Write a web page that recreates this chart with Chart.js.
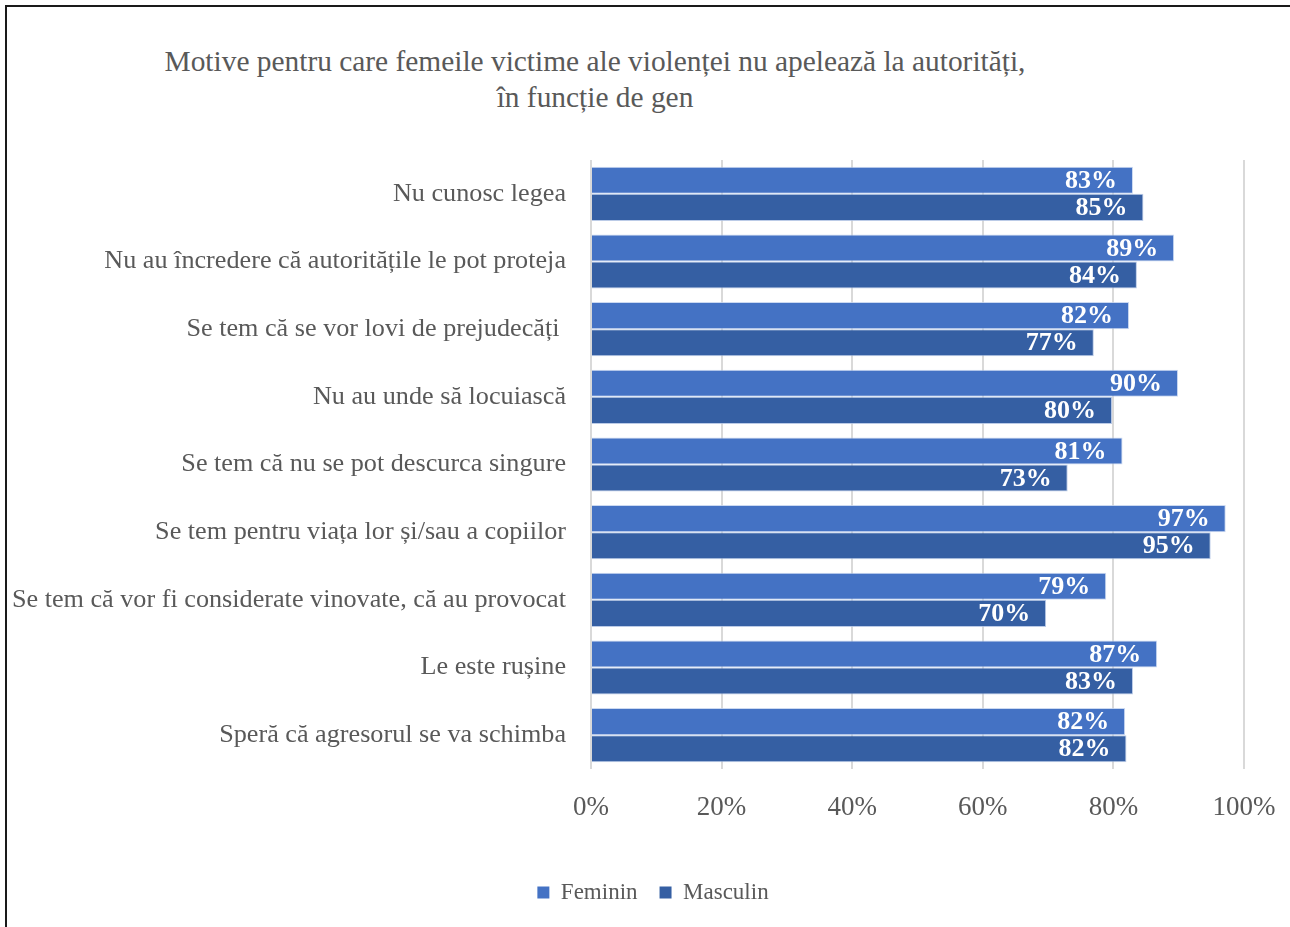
<!DOCTYPE html>
<html>
<head>
<meta charset="utf-8">
<script src="https://cdn.jsdelivr.net/npm/chart.js@4.4.0/dist/chart.umd.min.js"></script>
<style>
    html, body { margin: 0; padding: 0; background: #fff; }
    body { width: 1290px; height: 927px; position: relative; overflow: hidden; }
    #frame {
        position: absolute; left: 5px; top: 5px; right: -10px; bottom: -10px;
        border-top: 2px solid #1a1a1a; border-left: 2px solid #1a1a1a;
    }
    #title {
        position: absolute; left: 0; top: 43px; width: 1190px;
        text-align: center; font-family: "Liberation Serif", serif;
        font-size: 29.4px; line-height: 36px; color: #595959;
    }
    #wrap { position: absolute; left: 0; top: 0; width: 1290px; height: 927px; }
</style>
</head>
<body>
<div id="frame"></div>
<div id="title">Motive pentru care femeile victime ale violenței nu apelează la autorități,<br>în funcție de gen</div>
<div id="wrap"><canvas id="motiveChart"></canvas></div>
<script>
// Date: procente
const categorii = [
    'Nu cunosc legea',
    'Nu au încredere că autoritățile le pot proteja',
    'Se tem că se vor lovi de prejudecăți ',
    'Nu au unde să locuiască',
    'Se tem că nu se pot descurca singure',
    'Se tem pentru viața lor și/sau a copiilor',
    'Se tem că vor fi considerate vinovate, că au provocat',
    'Le este rușine',
    'Speră că agresorul se va schimba'
];
const feminin = [83.0, 89.3, 82.4, 89.9, 81.4, 97.2, 78.9, 86.7, 81.8];
const masculin = [84.6, 83.6, 77.0, 79.8, 73.0, 94.9, 69.7, 83.0, 82.0];
const tickuriX = [0, 20, 40, 60, 80, 100];

const fontSerif = '"Liberation Serif", serif';
const textGri = '#595959';

// Etichete pe bare (valoare rotunjita + %)
const eticheteBare = {
    id: 'eticheteBare',
    afterDatasetsDraw(chart) {
        const ctx = chart.ctx;
        ctx.save();
        ctx.font = 'bold 26px ' + fontSerif;
        ctx.fillStyle = '#ffffff';
        ctx.textAlign = 'right';
        ctx.textBaseline = 'middle';
        chart.data.datasets.forEach((ds, i) => {
            const meta = chart.getDatasetMeta(i);
            meta.data.forEach((bar, j) => {
                ctx.fillText(Math.round(ds.data[j]) + '%', bar.x - 16, bar.y + 1);
            });
        });
        ctx.restore();
    }
};

// Legenda mutata putin spre dreapta (centrata ca in original)
const mutaLegenda = {
    id: 'mutaLegenda',
    afterLayout(chart) {
        if (chart.legend) {
            chart.legend.left += 31;
            chart.legend.right += 31;
        }
    }
};

document.addEventListener('DOMContentLoaded', function() {
    const ctx = document.getElementById('motiveChart').getContext('2d');
    new Chart(ctx, {
        type: 'bar',
        data: {
            labels: categorii,
            datasets: [{
                label: 'Feminin',
                data: feminin,
                backgroundColor: '#4472C4',
                borderColor: 'rgba(190,208,238,0.8)',
                borderWidth: 1,
                categoryPercentage: 0.8,
                barPercentage: 1.0
            }, {
                label: 'Masculin',
                data: masculin,
                backgroundColor: '#355FA3',
                borderColor: 'rgba(170,190,225,0.8)',
                borderWidth: 1,
                categoryPercentage: 0.8,
                barPercentage: 1.0
            }]
        },
        options: {
            indexAxis: 'y',
            responsive: true,
            maintainAspectRatio: false,
            animation: false,
            layout: { padding: { top: 160, right: 46, bottom: 13, left: 0 } },
            plugins: {
                title: { display: false },
                tooltip: { enabled: false },
                legend: {
                    position: 'bottom',
                    labels: {
                        boxWidth: 12,
                        boxHeight: 12,
                        padding: 22,
                        color: textGri,
                        font: { family: fontSerif, size: 23 },
                        generateLabels: function(chart) {
                            return Chart.defaults.plugins.legend.labels.generateLabels(chart)
                                .map(l => Object.assign(l, { lineWidth: 0 }));
                        }
                    }
                }
            },
            scales: {
                x: {
                    min: 0,
                    max: 100,
                    afterBuildTicks: function(scale) {
                        scale.ticks = tickuriX.map(v => ({ value: v }));
                    },
                    afterFit: function(scale) {
                        scale.height = 90;
                        scale.paddingLeft = 0;
                        scale.paddingRight = 0;
                    },
                    grid: { color: '#d9d9d9', lineWidth: 2, drawTicks: false },
                    border: { display: false },
                    ticks: {
                        padding: 23,
                        color: textGri,
                        font: { family: fontSerif, size: 27 },
                        callback: function(value) { return value + '%'; }
                    }
                },
                y: {
                    afterFit: function(scale) {
                        scale.width = 591;
                        scale.paddingTop = 0;
                        scale.paddingBottom = 0;
                    },
                    grid: { display: false },
                    border: { display: false },
                    ticks: {
                        padding: 17,
                        color: textGri,
                        font: { family: fontSerif, size: 26.2 }
                    }
                }
            }
        },
        plugins: [eticheteBare, mutaLegenda]
    });
});
</script>
</body>
</html>
